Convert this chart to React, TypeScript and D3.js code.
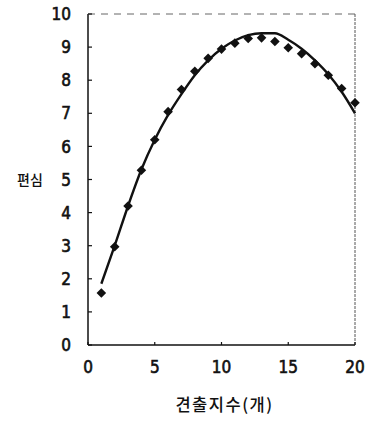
import { useEffect, useRef } from 'react';
import * as d3 from 'd3';

const xCounts = [1, 2, 3, 4, 5, 6, 7, 8, 9, 10, 11, 12, 13, 14, 15, 16, 17, 18, 19, 20];
const observed = [1.57, 2.97, 4.2, 5.28, 6.2, 7.05, 7.72, 8.27, 8.66, 8.94, 9.12, 9.26, 9.28, 9.17, 8.98, 8.8, 8.5, 8.15, 7.75, 7.32];
const fitted = [1.85, 3.0, 4.2, 5.3, 6.2, 6.95, 7.58, 8.15, 8.6, 8.95, 9.2, 9.36, 9.42, 9.42, 9.22, 8.95, 8.6, 8.18, 7.65, 7.0];
const yTicks = [0, 1, 2, 3, 4, 5, 6, 7, 8, 9, 10];
const xTicks = [0, 5, 10, 15, 20];

const yLabel = '편심';
const xLabel = '견출지수(개)';

export default function App() {
  const svgRef = useRef<SVGSVGElement>(null);

  useEffect(() => {
    if (!svgRef.current) return;
    const width = 366;
    const height = 423;
    const margin = { top: 14, right: 11, bottom: 78, left: 88 };

    const svg = d3.select(svgRef.current);
    svg.selectAll('*').remove();
    svg.attr('width', width).attr('height', height);

    const w = width - margin.left - margin.right;
    const h = height - margin.top - margin.bottom;

    const x = d3.scaleLinear().domain([0, 20]).range([0, w]);
    const y = d3.scaleLinear().domain([0, 10]).range([h, 0]);

    const g = svg.append('g').attr('transform', `translate(${margin.left},${margin.top})`);

    const numFont = '"Liberation Sans Narrow", "DejaVu Sans Condensed", sans-serif';

    // frame: left and bottom solid, top dashed, right dotted grey
    g.append('line').attr('x1', 0).attr('x2', 0).attr('y1', 0).attr('y2', h)
      .attr('stroke', '#111').attr('stroke-width', 1.5);
    g.append('line').attr('x1', 0).attr('x2', w).attr('y1', h).attr('y2', h)
      .attr('stroke', '#111').attr('stroke-width', 1.5);
    g.append('line').attr('x1', 0).attr('x2', w).attr('y1', 0).attr('y2', 0)
      .attr('stroke', '#666').attr('stroke-width', 1).attr('stroke-dasharray', '7,6');
    g.append('line').attr('x1', w).attr('x2', w).attr('y1', 0).attr('y2', h)
      .attr('stroke', '#555').attr('stroke-width', 1).attr('stroke-dasharray', '3,1');

    // y ticks (inward)
    yTicks.forEach(t => {
      g.append('line').attr('x1', 0).attr('x2', 4).attr('y1', y(t)).attr('y2', y(t))
        .attr('stroke', '#111').attr('stroke-width', 1.2);
      g.append('text')
        .attr('x', -17)
        .attr('y', y(t))
        .attr('dy', '0.36em')
        .attr('text-anchor', 'end')
        .style('font-family', numFont)
        .style('font-size', '17px')
        .attr('fill', '#111')
        .attr('stroke', '#111')
        .attr('stroke-width', 0.6)
        .text(t);
    });

    // x ticks (inward)
    xTicks.forEach(t => {
      g.append('line').attr('x1', x(t)).attr('x2', x(t)).attr('y1', h).attr('y2', h - 3)
        .attr('stroke', '#111').attr('stroke-width', 1.2);
      g.append('text')
        .attr('x', x(t))
        .attr('y', h + 22)
        .attr('dy', '0.36em')
        .attr('text-anchor', 'middle')
        .style('font-family', numFont)
        .style('font-size', '17px')
        .attr('fill', '#111')
        .attr('stroke', '#111')
        .attr('stroke-width', 0.6)
        .text(t);
    });

    // fitted curve
    const line = d3.line<number>()
      .x((_, i) => x(xCounts[i]))
      .y(d => y(d))
      .curve(d3.curveMonotoneX);
    g.append('path')
      .datum(fitted)
      .attr('d', line)
      .attr('fill', 'none')
      .attr('stroke', '#111')
      .attr('stroke-width', 2.4);

    // observed diamonds
    const diamond = d3.symbol().type(d3.symbolSquare).size(46);
    observed.forEach((v, i) => {
      g.append('path')
        .attr('d', diamond()!)
        .attr('transform', `translate(${x(xCounts[i])},${y(v)}) rotate(45)`)
        .attr('fill', '#111');
    });

    // axis labels
    svg.append('text')
      .attr('x', 30)
      .attr('y', margin.top + y(5))
      .attr('dy', '0.36em')
      .attr('text-anchor', 'middle')
      .style('font-family', '"Noto Sans CJK KR", sans-serif')
      .style('font-size', '14px')
      .style('font-weight', '500')
      .attr('fill', '#111')
      .text(yLabel);

    svg.append('text')
      .attr('x', margin.left + x(10) + 3)
      .attr('y', 411)
      .attr('text-anchor', 'middle')
      .style('font-family', '"Noto Sans CJK KR", sans-serif')
      .style('font-size', '16.5px')
      .style('font-weight', '500')
      .style('letter-spacing', '1.5px')
      .attr('fill', '#111')
      .text(xLabel);
  }, []);

  return (
    <svg ref={svgRef} style={{ position: 'absolute', left: 0, top: 0, background: 'white' }} />
  );
}
